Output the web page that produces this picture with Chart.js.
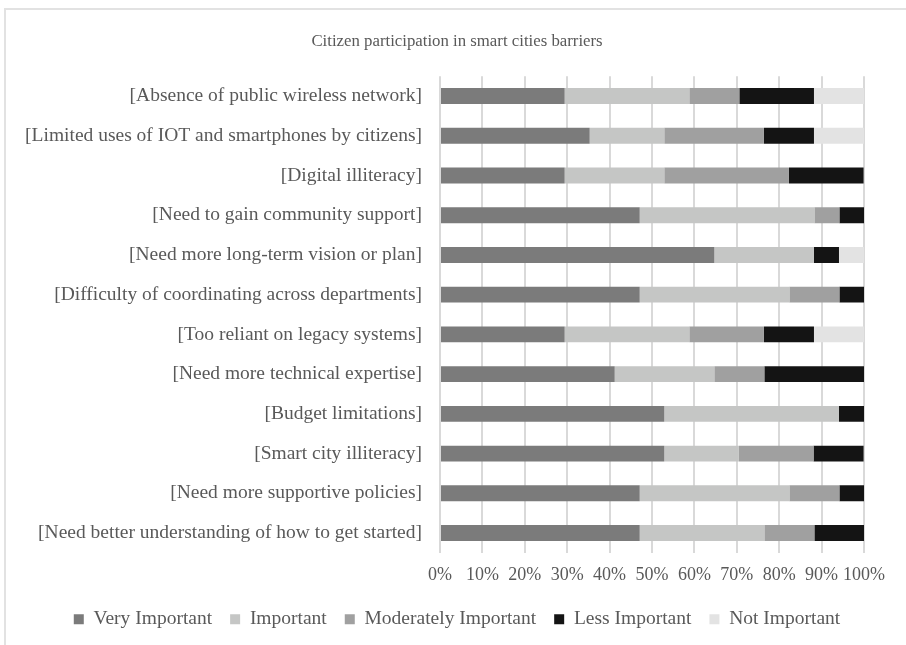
<!DOCTYPE html>
<html>
<head>
<meta charset="utf-8">
<script src="https://cdn.jsdelivr.net/npm/chart.js@4.4.1/dist/chart.umd.min.js"></script>
<style>
  html, body { margin: 0; padding: 0; background: #fff; overflow: hidden; }
  .frame {
    position: absolute; left: 4px; top: 8px; width: 1000px; height: 800px;
    border-left: 2px solid #e2e2e2; border-top: 2px solid #e2e2e2;
  }
  .wrap { position: absolute; left: 0; top: 0; width: 906px; height: 645px; }
</style>
</head>
<body>
<div class="frame"></div>
<div class="wrap"><canvas id="barriers" width="906" height="645"></canvas></div>
<script>
const barriers = [
    '[Absence of public wireless network]',
    '[Limited uses of IOT and smartphones by citizens]',
    '[Digital illiteracy]',
    '[Need to gain community support]',
    '[Need more long-term vision or plan]',
    '[Difficulty of coordinating across departments]',
    '[Too reliant on legacy systems]',
    '[Need more technical expertise]',
    '[Budget limitations]',
    '[Smart city illiteracy]',
    '[Need more supportive policies]',
    '[Need better understanding of how to get started]',
];

// share of answers per barrier, in %
const veryImportant = [29.4, 35.3, 29.4, 47.1, 64.7, 47.1, 29.4, 41.2, 52.9, 52.9, 47.1, 47.1];
const important = [29.4, 17.6, 23.5, 41.2, 23.5, 35.3, 29.4, 23.5, 41.2, 17.6, 35.3, 29.4];
const moderatelyImportant = [11.8, 23.5, 29.4, 5.9, 0, 11.8, 17.6, 11.8, 0, 17.6, 11.8, 11.8];
const lessImportant = [17.6, 11.8, 17.6, 5.9, 5.9, 5.9, 11.8, 23.5, 5.9, 11.8, 5.9, 11.8];
const notImportant = [11.8, 11.8, 0, 0, 5.9, 0, 11.8, 0, 0, 0, 0, 0];

const xTicks = [0, 10, 20, 30, 40, 50, 60, 70, 80, 90, 100];

const textColor = '#595959';
const serif = "'Liberation Serif', 'Times New Roman', serif";

function series(label, data, color) {
    return {
        label: label,
        data: data,
        backgroundColor: color,
        borderWidth: 0,
        barPercentage: 0.4,
        categoryPercentage: 1,
    };
}

const ctx = document.getElementById('barriers').getContext('2d');

const config = {
    type: 'bar',
    data: {
        labels: barriers,
        datasets: [
            series('Very Important', veryImportant, '#7b7b7b'),
            series('Important', important, '#c5c6c5'),
            series('Moderately Important', moderatelyImportant, '#a0a0a0'),
            series('Less Important', lessImportant, '#141414'),
            series('Not Important', notImportant, '#e3e3e3'),
        ],
    },
    options: {
        indexAxis: 'y',
        responsive: false,
        animation: false,
        layout: {
            padding: { top: 32, right: 0, bottom: 6, left: 8 },
        },
        scales: {
            x: {
                stacked: true,
                min: 0,
                max: 100,
                afterBuildTicks: (scale) => {
                    scale.ticks = xTicks.map((v) => ({ value: v }));
                },
                afterFit: (scale) => {
                    // keep the plot 42px off the right edge, pull the axis down a bit
                    scale.paddingRight = 42;
                    scale.height -= 7;
                },
                ticks: {
                    callback: (v) => v + '%',
                    color: textColor,
                    font: { family: serif, size: 18 },
                    padding: 12,
                    maxRotation: 0,
                    autoSkip: false,
                },
                grid: { color: '#d9d9d9', lineWidth: 2, drawTicks: false },
                border: { display: false },
            },
            y: {
                stacked: true,
                afterFit: (scale) => {
                    scale.width = 432;
                },
                ticks: {
                    color: textColor,
                    font: { family: serif, size: 19.5 },
                    padding: 18,
                    autoSkip: false,
                },
                grid: { display: false, drawTicks: false },
                border: { display: false },
            },
        },
        plugins: {
            title: {
                display: true,
                text: 'Citizen participation in smart cities barriers',
                color: textColor,
                font: { family: serif, size: 16.8, weight: 'normal' },
                padding: { top: 0, bottom: 24 },
            },
            legend: {
                position: 'bottom',
                labels: {
                    color: textColor,
                    font: { family: serif, size: 19.5 },
                    boxWidth: 10,
                    boxHeight: 10,
                    padding: 18,
                },
            },
            tooltip: { enabled: false },
        },
    },
};

new Chart(ctx, config);
</script>
</body>
</html>
